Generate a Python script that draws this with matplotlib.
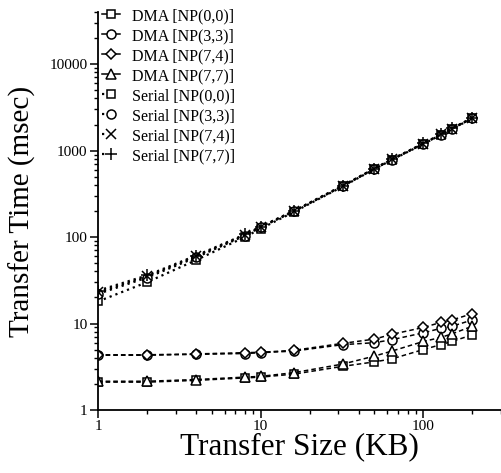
import matplotlib
matplotlib.use('Agg')
import matplotlib.pyplot as plt
from matplotlib.lines import Line2D
from matplotlib.ticker import LogLocator, FuncFormatter, NullFormatter

plt.rcParams['font.family'] = ['Liberation Serif', 'DejaVu Serif']

# transfer sizes (KB)
sizes = [1, 2, 4, 8, 10, 16, 32, 50, 64, 100, 128, 150, 200]

# DMA transfer times (msec)
dma_00 = [2.1, 2.1, 2.2, 2.35, 2.4, 2.6, 3.2, 3.6, 3.9, 5.0, 5.7, 6.2, 7.4]
dma_33 = [4.3, 4.3, 4.4, 4.5, 4.6, 4.8, 5.7, 6.0, 6.5, 7.8, 8.8, 9.3, 11.0]
dma_74 = [4.35, 4.35, 4.45, 4.6, 4.65, 4.9, 5.9, 6.6, 7.5, 9.0, 10.3, 11.0, 13.0]
dma_77 = [2.15, 2.15, 2.25, 2.4, 2.45, 2.7, 3.4, 4.2, 4.8, 6.2, 6.9, 7.6, 9.3]

# serial transfer times (msec)
ser_00 = [18, 30, 54, 100, 125, 195, 385, 610, 780, 1190, 1520, 1780, 2350]
ser_33 = [22, 34, 58, 104, 130, 198, 390, 615, 785, 1200, 1530, 1790, 2370]
ser_74 = [23, 35, 60, 106, 131, 200, 392, 618, 790, 1205, 1535, 1795, 2380]
ser_77 = [24, 36, 61, 107, 132, 201, 394, 620, 792, 1210, 1540, 1800, 2390]

labels = ['DMA [NP(0,0)]', 'DMA [NP(3,3)]', 'DMA [NP(7,4)]', 'DMA [NP(7,7)]',
          'Serial [NP(0,0)]', 'Serial [NP(3,3)]', 'Serial [NP(7,4)]', 'Serial [NP(7,7)]']

fig = plt.figure(figsize=(5.01, 4.73), dpi=100)
ax = fig.add_axes([98 / 501, 63 / 473, 403 / 501, 398 / 473])

dma_style = dict(color='black', lw=1.1, dashes=(3, 2), mfc='white', mec='black', mew=1.1)
ser_style = dict(color='black', lw=1.6, linestyle=(0, (1, 1.8)), mfc='white', mec='black', mew=1.1)

dma_sets = [(dma_00, 's', 6), (dma_33, 'o', 6.5), (dma_74, 'D', 5.5), (dma_77, '^', 7)]
ser_sets = [(ser_00, 's', 6), (ser_33, 'o', 6.5), (ser_74, 'x', 6.5), (ser_77, '+', 8)]

for vals, m, ms in dma_sets:
    ax.plot(sizes, vals, marker=m, ms=ms, **dma_style)
for vals, m, ms in ser_sets:
    ax.plot(sizes, vals, marker=m, ms=ms, **ser_style)

ax.set_xscale('log')
ax.set_yscale('log')
ax.set_xlim(1, 300)
ax.set_ylim(1, 40000)

for s in ['top', 'right']:
    ax.spines[s].set_visible(False)
for s in ['left', 'bottom']:
    ax.spines[s].set_linewidth(1.3)

fmt = FuncFormatter(lambda v, p: '%d' % v)
ax.xaxis.set_major_locator(LogLocator(base=10))
ax.yaxis.set_major_locator(LogLocator(base=10))
ax.xaxis.set_minor_locator(LogLocator(base=10, subs=range(2, 10)))
ax.yaxis.set_minor_locator(LogLocator(base=10, subs=range(2, 10)))
ax.xaxis.set_major_formatter(fmt)
ax.yaxis.set_major_formatter(fmt)
ax.xaxis.set_minor_formatter(NullFormatter())
ax.yaxis.set_minor_formatter(NullFormatter())
ax.tick_params(which='major', direction='out', length=5.5, width=1.1, labelsize=11, pad=2)
ax.tick_params(which='minor', direction='out', length=3, width=1.0)

fig.text(0.597, 0.055, 'Transfer Size (KB)', fontsize=22.5, ha='center', va='center')
fig.text(0.044, 0.554, 'Transfer Time (msec)', fontsize=21, rotation=90, ha='center', va='center')

# legend proxies
handles = []
for vals, m, ms in dma_sets:
    handles.append(Line2D([], [], color='black', lw=1.1, marker=m, ms=ms,
                          mfc='white', mec='black', mew=1.1))
for vals, m, ms in ser_sets:
    handles.append(Line2D([], [], color='black', lw=1.6, linestyle=(0, (1, 40)), marker=m, ms=ms,
                          mfc='white', mec='black', mew=1.1))

fig.legend(handles, labels, loc='upper left', bbox_to_anchor=(102 / 501, 1 - 8 / 473),
           frameon=False, fontsize=11.5, handlelength=1.1, handletextpad=0.8,
           labelspacing=0.25, borderpad=0, borderaxespad=0)

fig.savefig('out.png', dpi=100)
